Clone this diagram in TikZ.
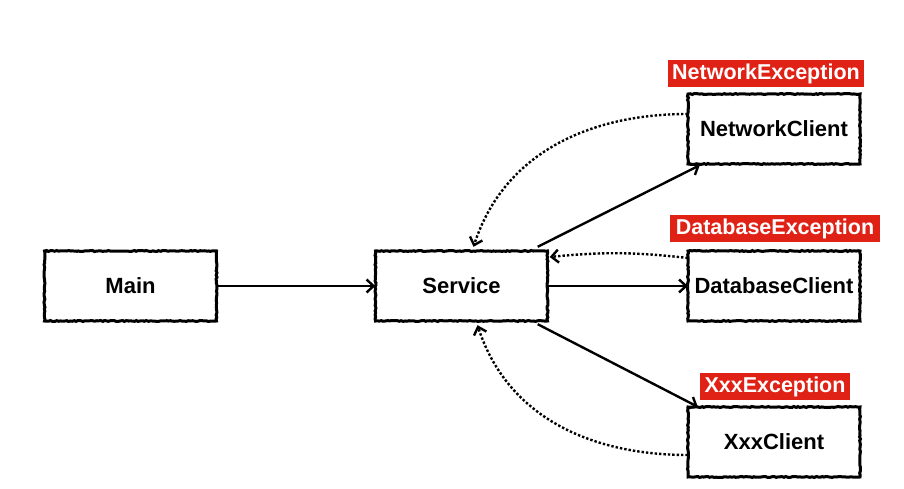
\documentclass[tikz,border=0pt]{standalone}
\usepackage{fontspec}
\setmainfont{Liberation Sans}
\usetikzlibrary{arrows.meta,decorations.pathmorphing}
\definecolor{exred}{RGB}{224,34,22}
\begin{document}
\begin{tikzpicture}[x=1pt,y=1pt,
  box/.style={fill=white,minimum width=172pt,minimum height=70pt,inner sep=0pt,
    font=\fontsize{22}{26}\selectfont\bfseries,
    postaction={draw=black,line width=3pt,decorate,decoration={random steps,segment length=2pt,amplitude=0.5pt}}},
  exlabel/.style={fill=exred,text=white,inner sep=0pt,minimum height=27pt,
    font=\fontsize{21.5}{26}\selectfont\bfseries},
  conn/.style={line width=2.4pt,-{Straight Barb[length=7pt,width=13pt,line width=2.4pt]}},
  back/.style={line width=2.4pt,dotted,-{Straight Barb[length=7pt,width=13pt,line width=2.4pt]}}]
\useasboundingbox (0,0) rectangle (904,489);
\node[box] (main) at (130.5,203) {Main};
\node[box] (svc) at (461.5,203) {Service};
\node[box] (net) at (774,360) {NetworkClient};
\node[box] (db) at (774,203) {DatabaseClient};
\node[box] (xxx) at (774,47) {XxxClient};
\node[exlabel,minimum width=196pt] (netex) at (766,415) {NetworkException};
\node[exlabel,minimum width=210pt] (dbex) at (775,260) {DatabaseException};
\node[exlabel,minimum width=150pt] (xxxex) at (775,102) {XxxException};
\draw[conn] (main.east) -- (svc.west);
\draw[conn] (svc.east) -- (db.west);
\draw[conn] ([xshift=-10pt,yshift=4pt]svc.north east) -- ([xshift=12pt,yshift=-1pt]net.south west);
\draw[conn] ([xshift=-10pt,yshift=-3pt]svc.south east) -- ([xshift=10pt]xxx.north west);
\draw[back] ([yshift=15pt]net.west) to[out=180,in=72,looseness=1.0] ([xshift=12pt,yshift=4pt]svc.north);
\draw[back] ([yshift=28pt]db.west) to[bend right=6] ([xshift=2pt,yshift=29pt]svc.east);
\draw[back] ([yshift=-13pt]xxx.west) to[out=180,in=-72,looseness=1.0] ([xshift=16pt,yshift=-4pt]svc.south);
\end{tikzpicture}
\end{document}
